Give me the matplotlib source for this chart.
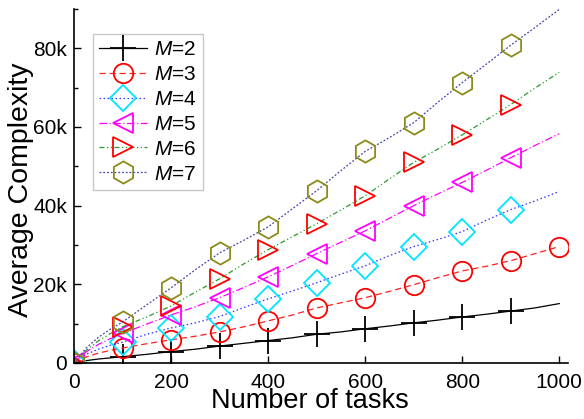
import matplotlib
matplotlib.use("Agg")
import matplotlib.pyplot as plt
import numpy as np

plt.rcParams["font.family"] = ["Liberation Sans", "DejaVu Sans"]
plt.rcParams["mathtext.fontset"] = "custom"
plt.rcParams["mathtext.rm"] = "Liberation Sans"
plt.rcParams["mathtext.it"] = "Liberation Sans:italic"

# number of tasks
tasks = [0, 10, 25, 50, 75, 100, 150, 200, 250, 300, 350, 400, 450, 500,
         550, 600, 650, 700, 750, 800, 850, 900, 950, 1000]

# average complexity, one list per M
m2 = [0, 300, 600, 1000, 1300, 1600, 2200, 2900, 3500, 4300, 5000, 5700,
      6400, 7300, 7900, 8700, 9400, 10200, 10900, 11700, 12400, 13200,
      14000, 15100]
m3 = [0, 700, 1500, 2500, 3200, 3800, 4900, 5900, 6800, 7900, 9200, 10700,
      12200, 14000, 15300, 16600, 18200, 19900, 21700, 23400, 24600, 26000,
      27800, 29600]
m4 = [0, 1000, 2200, 3500, 4500, 5300, 7300, 8900, 10200, 11800, 14100,
      16300, 18300, 20400, 22600, 24700, 27300, 29600, 31400, 33400, 36300,
      39000, 41200, 43600]
m5 = [0, 1200, 2800, 4700, 6200, 7500, 9900, 12200, 14300, 16600, 19200,
      21900, 24800, 27800, 30700, 33600, 36800, 40000, 43000, 45900, 49000,
      52200, 55300, 58300]
m6 = [0, 1300, 3200, 5600, 7500, 9200, 11700, 14500, 18000, 21400, 25200,
      28800, 32100, 35400, 38900, 42500, 46800, 51000, 54400, 58000, 61800,
      65700, 69900, 73900]
m7 = [0, 1500, 3800, 6500, 8600, 10400, 14800, 19100, 23700, 28000, 31200,
      34600, 39200, 43800, 48900, 53800, 57300, 61100, 66300, 71300, 76000,
      80800, 85300, 89900]

labels = ["$M$=2", "$M$=3", "$M$=4", "$M$=5", "$M$=6", "$M$=7"]
mark_x = [0, 100, 200, 300, 400, 500, 600, 700, 800, 900]

styles = [
    dict(color="black", ls="-", marker="+", mec="black", ms=19, mew=1.3),
    dict(color="#ff2020", ls=(0, (5, 3)), marker="o", mec="#ff0000", ms=14),
    dict(color="#3030ff", ls=(0, (1.2, 2)), marker="D", mec="#00e5ff", ms=13),
    dict(color="#ff00ff", ls=(0, (6, 2, 1, 2)), marker="<", mec="#ff00ff", ms=15),
    dict(color="#2a9a2a", ls=(0, (4, 2, 1, 2, 1, 2)), marker=">", mec="#ff0000", ms=15),
    dict(color="#4444aa", ls=(0, (1.5, 1.5)), marker="h", mec="#8b8b1a", ms=16),
]

fig = plt.figure(figsize=(5.84, 4.19), dpi=100)
ax = fig.add_axes([0.1267, 0.1337, 0.8459, 0.8448])

series = [m2, m3, m4, m5, m6, m7]
for i, (vals, lab, st) in enumerate(zip(series, labels, styles)):
    mx = mark_x + [1000] if i == 1 else mark_x
    every = [tasks.index(v) for v in mx]
    ax.plot(tasks, vals, color=st["color"], ls=st["ls"], lw=0.9,
            marker=st["marker"], markevery=every, ms=st["ms"],
            mfc="none", mec=st["mec"], mew=st.get("mew", 1.3), label=lab)

ax.set_xlim(0, 1018)
ax.set_ylim(0, 90000)
ax.set_xticks([0, 200, 400, 600, 800, 1000])
ax.set_yticks([0, 20000, 40000, 60000, 80000])
ax.set_yticklabels(["0", "20k", "40k", "60k", "80k"])
ax.set_yticks([10000, 30000, 50000, 70000, 90000], minor=True)
ax.tick_params(direction="in", length=5, width=1, labelsize=15)
ax.tick_params(axis="x", pad=7)
ax.tick_params(axis="y", pad=5)
ax.tick_params(which="minor", direction="in", length=3, width=1)
for s in ("top", "right"):
    ax.spines[s].set_visible(False)
for s in ("left", "bottom"):
    ax.spines[s].set_linewidth(1.2)

ax.set_xlabel("Number of tasks", fontsize=19.5)
ax.xaxis.set_label_coords(0.478, -0.072)
ax.set_ylabel("Average Complexity", fontsize=20.5)
ax.yaxis.set_label_coords(-0.08, 0.49)

leg = ax.legend(loc="upper left", bbox_to_anchor=(0.038, 0.929),
                borderaxespad=0, fontsize=15, handlelength=2.3,
                handletextpad=0.35, labelspacing=0.28, borderpad=0.3,
                fancybox=False, framealpha=1)
leg.get_frame().set_edgecolor("#c8c8c8")
leg.get_frame().set_linewidth(1)

fig.savefig("out.png", dpi=100)
